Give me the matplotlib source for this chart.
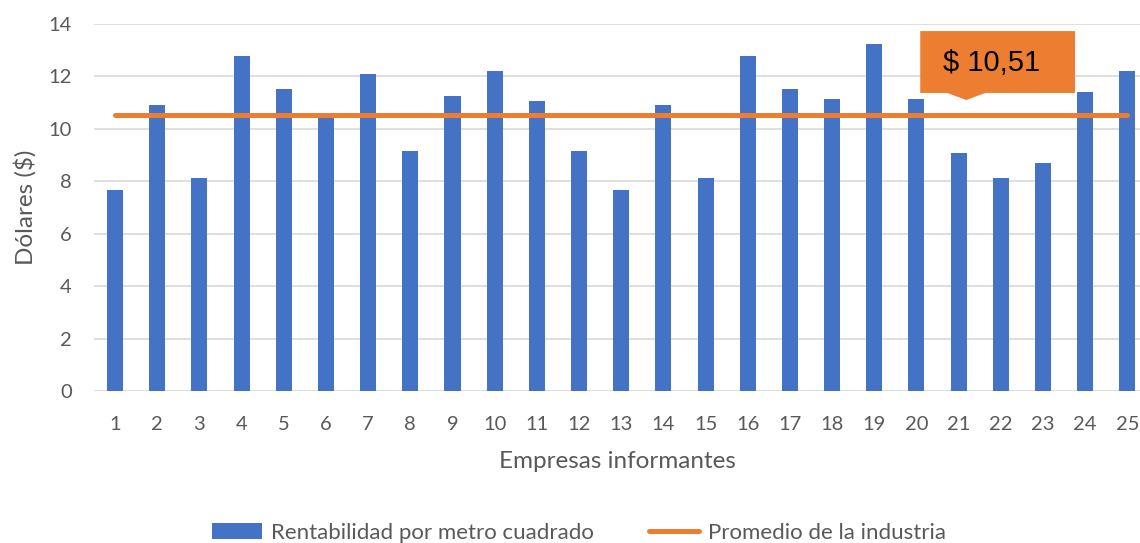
import matplotlib.pyplot as plt
from matplotlib.patches import Polygon, Patch
from matplotlib.lines import Line2D

plt.rcParams['font.family'] = ['Lato', 'DejaVu Sans']

empresas = list(range(1, 26))
rentabilidad = [7.67, 10.92, 8.14, 12.79, 11.51, 10.55, 12.11, 9.17, 11.27, 12.21,
                11.05, 9.17, 7.67, 10.92, 8.14, 12.79, 11.51, 11.14, 13.25, 11.14,
                9.07, 8.14, 8.71, 11.39, 12.21]
promedio = round(sum(rentabilidad) / len(rentabilidad), 2)
promedio_serie = [promedio] * len(empresas)

BLUE = '#4472C4'
ORANGE = '#ED7D31'
GRAY = '#595959'
GRID = '#D9D9D9'

fig = plt.figure(figsize=(11.4, 5.43), dpi=100)
ax = fig.add_axes([94 / 1140, 152 / 543, 1046 / 1140, 367 / 543])

ax.bar(empresas, rentabilidad, width=0.38, color=BLUE, zorder=2)
ax.plot(empresas, promedio_serie, color=ORANGE, linewidth=3.6,
        solid_capstyle='round', zorder=3)

ax.set_xlim(0.5, 25.3)
ax.set_ylim(0, 14)
ax.set_yticks(range(0, 15, 2))
ax.set_xticks(empresas)
ax.grid(axis='y', color=GRID, linewidth=1.2, zorder=0)
for s in ax.spines.values():
    s.set_visible(False)
ax.tick_params(length=0, labelsize=14.5, colors=GRAY)
ax.tick_params(axis='x', pad=18)
ax.tick_params(axis='y', pad=16)
ax.set_xlabel('Empresas informantes', fontsize=17.5, color=GRAY)
ax.set_ylabel('Dólares ($)', fontsize=17.5, color=GRAY)
ax.xaxis.set_label_coords(0.5, -0.193)
ax.yaxis.set_label_coords(-0.066, 0.5)
ax.xaxis.label.set_va('center')
ax.yaxis.label.set_va('center')

# callout with the industry average
box = Polygon([(20.09, 13.73), (23.76, 13.73), (23.76, 11.37), (21.63, 11.37),
               (21.18, 11.10), (20.73, 11.37), (20.09, 11.37)],
              closed=True, facecolor=ORANGE, edgecolor='none', zorder=4)
ax.add_patch(box)
ax.text(20.64, 12.50, '$ ' + f'{promedio:.2f}'.replace('.', ','),
        fontsize=21, family='Liberation Sans', color='black',
        ha='left', va='center', zorder=5)

handles = [Patch(facecolor=BLUE, edgecolor='none'),
           Line2D([0], [0], color=ORANGE, linewidth=3.6, solid_capstyle='round')]
fig.legend(handles, ['Rentabilidad por metro cuadrado', 'Promedio de la industria'],
           loc='center', bbox_to_anchor=(579 / 1140, 10 / 543), ncol=2,
           frameon=False, fontsize=16, labelcolor=GRAY, handlelength=2.25,
           handletextpad=0.4, columnspacing=2.5)

fig.savefig('out.png', dpi=100)
